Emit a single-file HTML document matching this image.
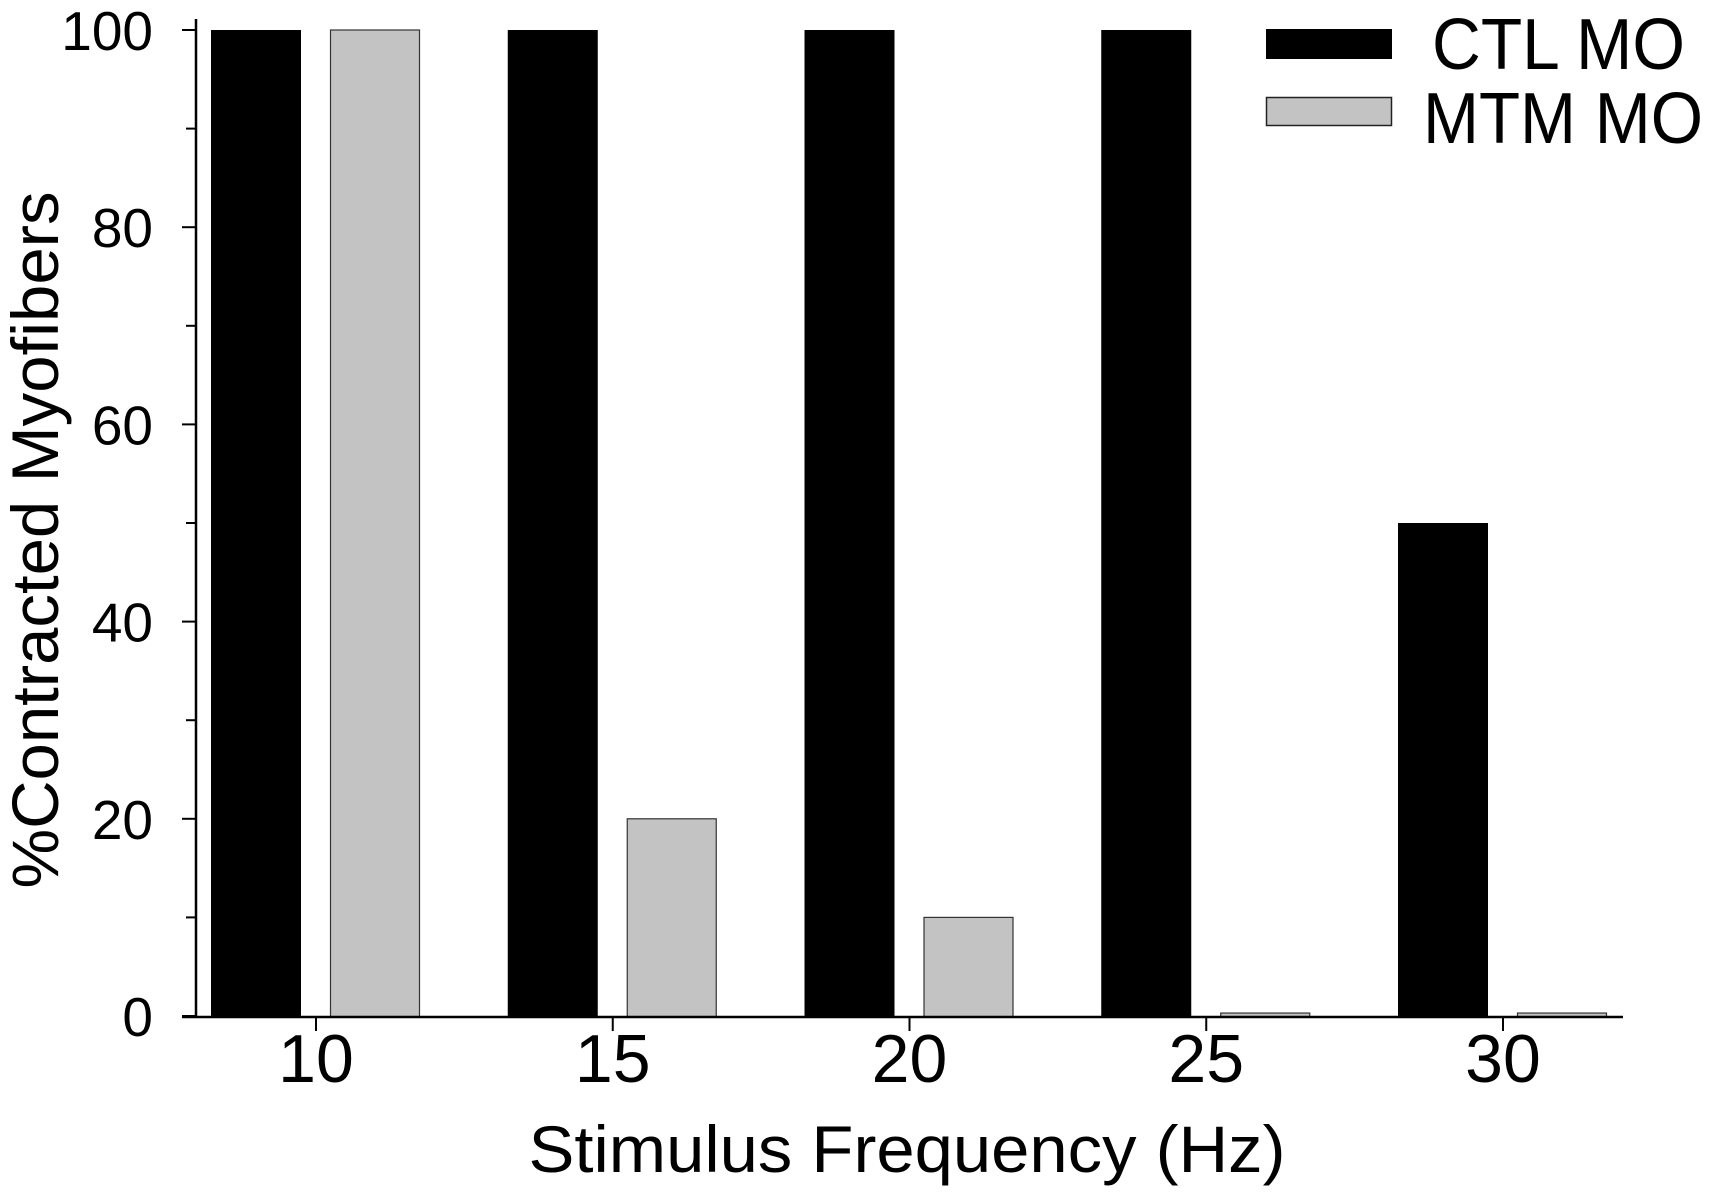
<!DOCTYPE html>
<html><head><meta charset="utf-8"><style>
html,body{margin:0;padding:0;background:#fff;}
svg{display:block;font-family:"Liberation Sans",Arial,sans-serif;}
</style></head><body>
<svg id="chart" width="1711" height="1192" viewBox="0 0 1711 1192" xmlns="http://www.w3.org/2000/svg">
<g id="bars"></g>
<g id="axes"></g>
<text x="907" y="1172" font-size="66" text-anchor="middle" textLength="757" lengthAdjust="spacingAndGlyphs">Stimulus Frequency (Hz)</text>
<text transform="translate(58,540) rotate(-90)" font-size="66" text-anchor="middle" textLength="697" lengthAdjust="spacingAndGlyphs">%Contracted Myofibers</text>
<g>
<rect x="1266" y="29" width="126" height="30" fill="#000"/>
<text x="1432" y="69" font-size="72" textLength="253" lengthAdjust="spacingAndGlyphs">CTL MO</text>
<rect x="1266.5" y="97.5" width="125" height="28" fill="#c3c3c3" stroke="#222" stroke-width="1.5"/>
<text x="1423" y="143" font-size="72" textLength="280" lengthAdjust="spacingAndGlyphs">MTM MO</text>
</g>
</svg>
<script>
const categories = [10, 15, 20, 25, 30];
const ctlValues = [100, 100, 100, 100, 50];
const mtmValues = [100, 20, 10, 0.3, 0.3];
const yTicks = [0, 20, 40, 60, 80, 100];
const yMinorTicks = [10, 30, 50, 70, 90];

const NS = "http://www.w3.org/2000/svg";
function xScale(f){ return 316 + (f - 10) * (1503 - 316) / 20; }
function yScale(v){ return 1016 - v * 9.86; }
function mk(tag, attrs, parent){ const e = document.createElementNS(NS, tag); for (const k in attrs) e.setAttribute(k, attrs[k]); parent.appendChild(e); return e; }

const bars = document.getElementById('bars');
const axes = document.getElementById('axes');
const x0 = 196, yb = 1017;

categories.forEach((c, i) => {
  const cx = xScale(c);
  const y1 = yScale(ctlValues[i]);
  const b = mk('rect', {x: cx - 105, y: y1, width: 90, height: yb - y1, fill: '#000'}, bars);
  
  
  const y2 = yScale(mtmValues[i]);
  const g = mk('rect', {x: cx + 14.5, y: y2, width: 89, height: yb - y2, fill: '#c3c3c3', stroke: '#333', 'stroke-width': 1.2}, bars);
  
  
  const t = mk('line', {x1: cx, y1: yb, x2: cx, y2: yb + 14, stroke: '#000', 'stroke-width': 2}, axes);
  
  
  const l = mk('text', {x: cx, y: 1082, 'font-size': 68, 'text-anchor': 'middle'}, axes);
  
  
  l.textContent = c;
});

const ya = mk('line', {x1: x0, y1: 19, x2: x0, y2: yb + 1, stroke: '#000', 'stroke-width': 2.5}, axes);


const xa = mk('line', {x1: 182, y1: yb, x2: 1623, y2: yb, stroke: '#000', 'stroke-width': 2.5}, axes);



yTicks.forEach(v => {
  const y = yScale(v);
  const t = mk('line', {x1: 182, y1: y, x2: x0, y2: y, stroke: '#000', 'stroke-width': 2}, axes);
  
  
  const l = mk('text', {x: 153, y: y + 20, 'font-size': 55, 'text-anchor': 'end'}, axes);
  
  
  l.textContent = v;
});
yMinorTicks.forEach(v => {
  const y = yScale(v);
  const t = mk('line', {x1: 186, y1: y, x2: x0, y2: y, stroke: '#000', 'stroke-width': 2}, axes);
  
  
});
</script>
</body></html>
